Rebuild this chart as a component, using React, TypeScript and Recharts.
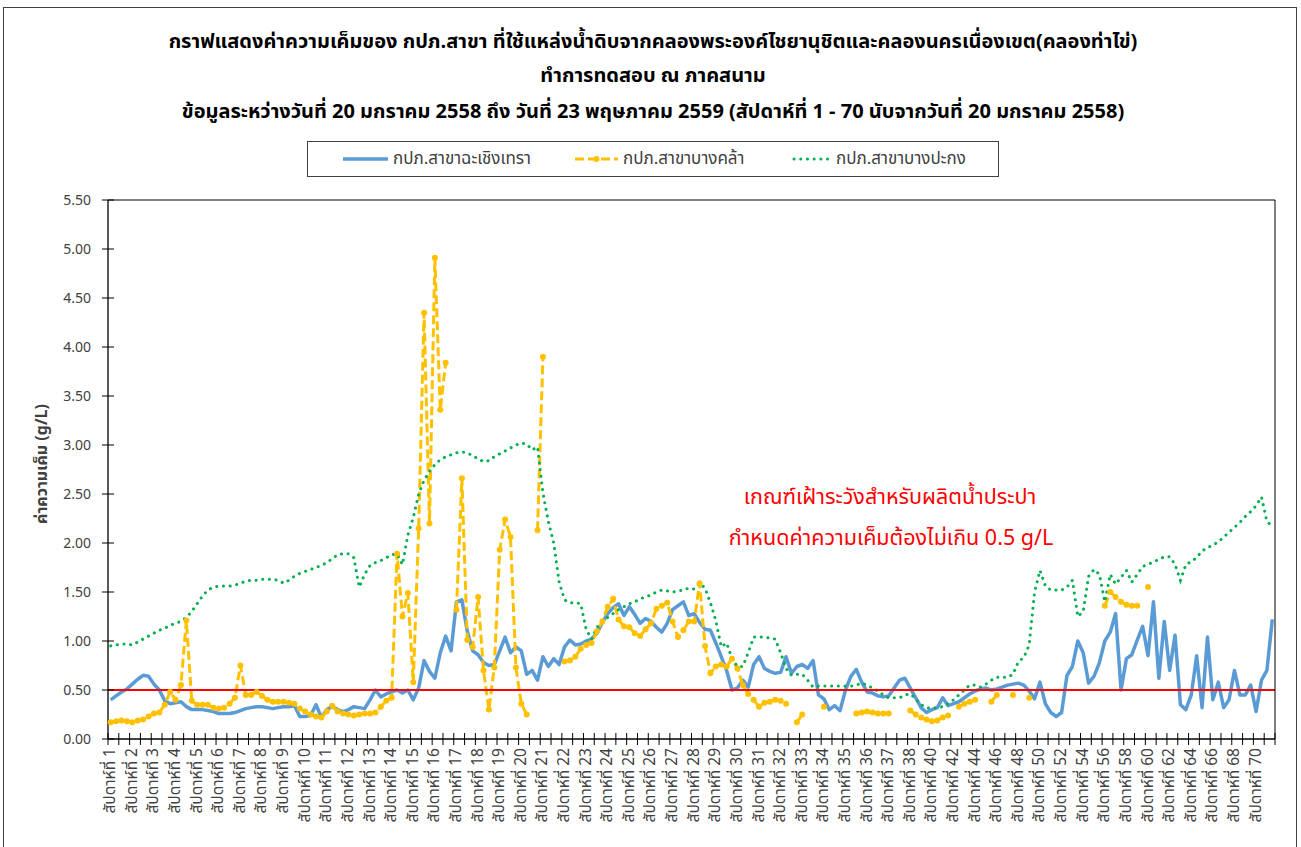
import React from "react";
import { LineChart, Line, XAxis, YAxis, ReferenceLine } from "recharts";

// week numbers shown on the category axis (one label every 4 points)
const weeks = [
  1, 2, 3, 4, 5, 6, 7, 8, 9, 10, 11, 12, 13, 14, 15, 16, 17, 18, 19, 20,
  21, 22, 23, 24, 25, 26, 27, 28, 29, 30, 31, 32, 33, 34, 35, 36, 37, 38,
  40, 42, 44, 46, 48, 50, 52, 54, 56, 58, 60, 62, 64, 66, 68, 70,
];

// กปภ.สาขาฉะเชิงเทรา (g/L)
const chachoengsao = [
  0.40, 0.44, 0.48, 0.51, 0.56, 0.61, 0.65, 0.64, 0.56, 0.50,
  0.39, 0.36, 0.37, 0.38, 0.33, 0.30, 0.30, 0.30, 0.29, 0.28,
  0.26, 0.26, 0.26, 0.27, 0.29, 0.31, 0.32, 0.33, 0.33, 0.32,
  0.31, 0.32, 0.33, 0.33, 0.34, 0.23, 0.23, 0.24, 0.35, 0.22,
  0.30, 0.33, 0.30, 0.28, 0.30, 0.33, 0.32, 0.31, 0.40, 0.50,
  0.43, 0.46, 0.48, 0.50, 0.47, 0.50, 0.40, 0.52, 0.80, 0.69,
  0.62, 0.88, 1.05, 0.90, 1.40, 1.42, 1.10, 0.90, 0.86, 0.78,
  0.75, 0.76, 0.90, 1.04, 0.88, 0.94, 0.90, 0.66, 0.70, 0.60,
  0.84, 0.74, 0.82, 0.76, 0.94, 1.01, 0.96, 0.97, 1.00, 1.02,
  1.08, 1.19, 1.28, 1.34, 1.38, 1.26, 1.35, 1.27, 1.18, 1.23,
  1.20, 1.14, 1.09, 1.18, 1.32, 1.36, 1.40, 1.26, 1.28, 1.19,
  1.12, 1.11, 0.98, 0.84, 0.70, 0.50, 0.52, 0.60, 0.53, 0.76,
  0.84, 0.72, 0.69, 0.67, 0.68, 0.84, 0.67, 0.74, 0.76, 0.72,
  0.80, 0.45, 0.41, 0.30, 0.34, 0.29, 0.50, 0.64, 0.71, 0.58,
  0.48, 0.47, 0.44, 0.43, 0.44, 0.52, 0.60, 0.62, 0.52, 0.42,
  0.32, 0.27, 0.30, 0.32, 0.42, 0.34, 0.36, 0.38, 0.42, 0.46,
  0.49, 0.51, 0.52, 0.50, 0.51, 0.53, 0.55, 0.56, 0.57, 0.55,
  0.49, 0.41, 0.58, 0.36, 0.27, 0.23, 0.27, 0.65, 0.74, 1.00,
  0.88, 0.57, 0.64, 0.78, 1.00, 1.09, 1.28, 0.50, 0.82, 0.86,
  1.01, 1.15, 0.85, 1.40, 0.62, 1.20, 0.70, 1.06, 0.35, 0.30,
  0.45, 0.85, 0.32, 1.04, 0.40, 0.58, 0.32, 0.40, 0.70, 0.45,
  0.45, 0.55, 0.28, 0.60, 0.70, 1.22,
];

// กปภ.สาขาบางคล้า (g/L), null = no sample
const bangkhla = [
  0.17, 0.18, 0.19, 0.18, 0.17, 0.19, 0.20, 0.23, 0.26, 0.27,
  0.35, 0.48, 0.40, 0.55, 1.21, 0.39, 0.35, 0.35, 0.35, 0.32,
  0.31, 0.32, 0.36, 0.42, 0.75, 0.45, 0.45, 0.48, 0.44, 0.40,
  0.38, 0.38, 0.38, 0.37, 0.36, 0.31, 0.28, 0.25, 0.23, 0.22,
  0.28, 0.34, 0.28, 0.26, 0.25, 0.24, 0.25, 0.26, 0.26, 0.27,
  0.33, 0.39, 0.42, 1.89, 1.25, 1.49, 0.58, 2.15, 4.35, 2.20,
  4.91, 3.36, 3.84, null, 1.32, 2.66, 1.01, 0.94, 1.45, 0.70,
  0.30, 0.73, 1.93, 2.24, 2.06, 0.73, 0.36, 0.25, null, 2.13,
  3.90, null, null, null, 0.79, 0.80, 0.84, 0.92, 0.96, 0.98,
  1.10, 1.20, 1.35, 1.43, 1.22, 1.15, 1.14, 1.08, 1.05, 1.12,
  1.18, 1.33, 1.36, 1.39, 1.20, 1.04, 1.11, 1.20, 1.20, 1.59,
  0.95, 0.67, 0.74, 0.76, 0.74, 0.82, 0.72, 0.55, 0.46, 0.40,
  0.33, 0.37, 0.38, 0.40, 0.39, 0.36, null, 0.17, 0.25, null,
  null, null, 0.33, null, null, null, null, null, 0.26, 0.27,
  0.28, 0.27, 0.26, 0.26, 0.26, null, null, null, 0.29, 0.25,
  0.22, 0.20, 0.18, 0.19, 0.22, 0.24, null, 0.33, 0.36, 0.38,
  0.40, null, null, 0.38, 0.45, null, null, 0.45, null, null,
  0.42, null, null, null, null, null, null, null, null, null,
  null, null, null, null, 1.36, 1.50, 1.45, 1.40, 1.37, 1.36,
  1.36, null, 1.55, null, null, null, null, null, null, null,
  null, null, null, null, null, null, null, null, null, null,
  null, null, null, null, null, null,
];

// กปภ.สาขาบางปะกง (g/L)
const bangpakong = [
  0.95, 0.96, 0.97, 0.97, 0.96, 0.99, 1.02, 1.05, 1.08, 1.11,
  1.13, 1.16, 1.18, 1.20, 1.24, 1.30, 1.38, 1.46, 1.52, 1.55,
  1.56, 1.56, 1.56, 1.57, 1.59, 1.61, 1.62, 1.62, 1.63, 1.63,
  1.63, 1.62, 1.59, 1.62, 1.66, 1.69, 1.71, 1.73, 1.75, 1.77,
  1.80, 1.84, 1.88, 1.89, 1.89, 1.85, 1.55, 1.68, 1.77, 1.80,
  1.82, 1.85, 1.88, 1.89, 1.78, 2.08, 2.26, 2.50, 2.64, 2.73,
  2.80, 2.85, 2.88, 2.90, 2.92, 2.93, 2.92, 2.89, 2.86, 2.83,
  2.84, 2.88, 2.91, 2.94, 2.97, 3.00, 3.02, 3.01, 2.95, 2.98,
  2.51, 2.22, 2.00, 1.60, 1.42, 1.39, 1.39, 1.38, 1.12, 1.02,
  1.14, 1.20, 1.24, 1.28, 1.32, 1.35, 1.38, 1.40, 1.43, 1.45,
  1.47, 1.50, 1.52, 1.51, 1.50, 1.51, 1.52, 1.54, 1.53, 1.59,
  1.54, 1.39, 1.21, 0.94, 0.98, 0.82, 0.74, 0.74, 0.88, 1.04,
  1.04, 1.04, 1.03, 1.02, 0.88, 0.72, 0.65, 0.66, 0.66, 0.60,
  0.53, 0.54, 0.54, 0.54, 0.54, 0.54, 0.54, 0.54, 0.55, 0.57,
  0.55, 0.52, 0.49, 0.45, 0.42, 0.42, 0.42, 0.45, 0.46, 0.41,
  0.35, 0.32, 0.31, 0.32, 0.33, 0.36, 0.40, 0.45, 0.50, 0.55,
  0.55, 0.53, 0.56, 0.60, 0.63, 0.63, 0.63, 0.66, 0.79, 0.83,
  0.96, 1.50, 1.72, 1.56, 1.52, 1.52, 1.52, 1.55, 1.62, 1.25,
  1.30, 1.66, 1.73, 1.68, 1.40, 1.68, 1.58, 1.65, 1.72, 1.60,
  1.68, 1.76, 1.78, 1.81, 1.83, 1.86, 1.86, 1.78, 1.62, 1.78,
  1.81, 1.85, 1.92, 1.95, 1.98, 2.01, 2.06, 2.11, 2.16, 2.21,
  2.27, 2.32, 2.38, 2.47, 2.22, 2.17,
];

const yTicks = [0, 0.5, 1, 1.5, 2, 2.5, 3, 3.5, 4, 4.5, 5, 5.5];

const FONT = "Tahoma, 'Noto Sans Thai', 'Noto Sans', 'DejaVu Sans', sans-serif";
const AXIS_TEXT = "#404040";

const PLOT_LEFT = 108;
const PLOT_RIGHT = 1275;
const PLOT_BOTTOM = 739;
const HALF = 2.7; // half a category step

const data = chachoengsao.map((v, i) => ({
  idx: i,
  a: v,
  b: bangkhla[i],
  c: bangpakong[i],
}));

const XTick = (props: any) => {
  const { x, payload } = props;
  const i = Number(payload.value);
  return (
    <g>
      {i % 2 === 0 && (
        <line x1={x - HALF} x2={x - HALF} y1={PLOT_BOTTOM - 6} y2={PLOT_BOTTOM + 6} stroke="#000" strokeWidth={1} />
      )}
      {i === data.length - 1 && (
        <line x1={PLOT_RIGHT} x2={PLOT_RIGHT} y1={PLOT_BOTTOM - 6} y2={PLOT_BOTTOM + 6} stroke="#000" strokeWidth={1} />
      )}
      {i % 4 === 0 && (
        <text
          x={x}
          y={PLOT_BOTTOM + 9}
          transform={`rotate(-90 ${x} ${PLOT_BOTTOM + 9})`}
          textAnchor="end"
          dominantBaseline="central"
          fontSize={15.5}
          fontFamily={FONT}
          fill={AXIS_TEXT}
        >
          {`สัปดาห์ที่ ${weeks[i / 4]}`}
        </text>
      )}
    </g>
  );
};

const YTick = (props: any) => {
  const { y, payload } = props;
  return (
    <g>
      <line x1={PLOT_LEFT - 6} x2={PLOT_LEFT + 6} y1={y} y2={y} stroke="#000" strokeWidth={1} />
      <text x={91} y={y} textAnchor="end" dominantBaseline="central" fontSize={14} fontFamily={FONT} fill={AXIS_TEXT}>
        {Number(payload.value).toFixed(2)}
      </text>
    </g>
  );
};

export default function App() {
  return (
    <div style={{ position: "absolute", left: 0, top: 0, width: 1301, height: 847, background: "#fff", fontFamily: FONT }}>
      <LineChart width={1301} height={847} data={data} margin={{ top: 199, right: 25, bottom: 0, left: 0 }}>
        <XAxis
          dataKey="idx"
          type="category"
          interval={0}
          height={108}
          padding={{ left: HALF, right: HALF }}
          tick={<XTick />}
          tickLine={false}
          axisLine={{ stroke: "#000", strokeWidth: 1.3 }}
        />
        <XAxis xAxisId="top" orientation="top" dataKey="idx" height={1} tick={false} tickLine={false} axisLine={{ stroke: "#000" }} />
        <YAxis
          domain={[0, 5.5]}
          ticks={yTicks}
          width={108}
          interval={0}
          tick={<YTick />}
          tickLine={false}
          axisLine={{ stroke: "#000", strokeWidth: 1.3 }}
        />
        <YAxis yAxisId="right" orientation="right" width={1} tick={false} tickLine={false} axisLine={{ stroke: "#000" }} />
        <Line
          dataKey="a"
          name="กปภ.สาขาฉะเชิงเทรา"
          stroke="#5B9BD5"
          strokeWidth={3.5}
          strokeLinejoin="round"
          dot={false}
          isAnimationActive={false}
        />
        <Line
          dataKey="b"
          name="กปภ.สาขาบางคล้า"
          stroke="#FFC000"
          strokeWidth={3}
          strokeDasharray="9 4"
          dot={{ r: 3, fill: "#FFC000", stroke: "none" }}
          connectNulls={false}
          isAnimationActive={false}
        />
        <Line
          dataKey="c"
          name="กปภ.สาขาบางปะกง"
          stroke="#00B050"
          strokeWidth={3}
          strokeDasharray="0.1 6.6"
          strokeLinecap="round"
          dot={false}
          isAnimationActive={false}
        />
        <ReferenceLine y={0.5} stroke="#FF0000" strokeWidth={2} />
      </LineChart>

      <svg width={1301} height={847} style={{ position: "absolute", left: 0, top: 0, pointerEvents: "none" }}>
        <rect x={3.5} y={7.5} width={1293} height={845} fill="none" stroke="#404040" strokeWidth={1} />

        <g fontFamily={FONT} fontWeight="bold" fontSize={20} fill="#000" textAnchor="middle">
          <text x={653} y={42} dominantBaseline="central">
            กราฟแสดงค่าความเค็มของ กปภ.สาขา ที่ใช้แหล่งน้ำดิบจากคลองพระองค์ไชยานุชิตและคลองนครเนื่องเขต(คลองท่าไข่)
          </text>
          <text x={653} y={76} dominantBaseline="central">
            ทำการทดสอบ ณ ภาคสนาม
          </text>
          <text x={653} y={112} dominantBaseline="central">
            ข้อมูลระหว่างวันที่ 20 มกราคม 2558 ถึง วันที่ 23 พฤษภาคม 2559 (สัปดาห์ที่ 1 - 70 นับจากวันที่ 20 มกราคม 2558)
          </text>
        </g>

        <rect x={307.5} y={141.5} width={691} height={35} fill="#fff" stroke="#404040" strokeWidth={1} />
        <line x1={343} x2={388} y1={159} y2={159} stroke="#5B9BD5" strokeWidth={3.5} />
        <line x1={575} x2={618} y1={159} y2={159} stroke="#FFC000" strokeWidth={3} strokeDasharray="9 4" />
        <circle cx={596.5} cy={159} r={3} fill="#FFC000" />
        <line x1={794} x2={830} y1={159} y2={159} stroke="#00B050" strokeWidth={3} strokeDasharray="0.1 6.6" strokeLinecap="round" />
        <g fontFamily={FONT} fontSize={17} fill={AXIS_TEXT} dominantBaseline="central">
          <text x={393} y={159}>กปภ.สาขาฉะเชิงเทรา</text>
          <text x={623} y={159}>กปภ.สาขาบางคล้า</text>
          <text x={836} y={159}>กปภ.สาขาบางปะกง</text>
        </g>

        <text
          x={42}
          y={464}
          transform="rotate(-90 42 464)"
          textAnchor="middle"
          dominantBaseline="central"
          fontFamily={FONT}
          fontWeight="bold"
          fontSize={16}
          fill={AXIS_TEXT}
        >
          ค่าความเค็ม (g/L)
        </text>

        <g fontFamily={FONT} fontSize={21.5} fill="#FF0000" textAnchor="middle">
          <text x={890} y={497} dominantBaseline="central">เกณฑ์เฝ้าระวังสำหรับผลิตน้ำประปา</text>
          <text x={891} y={538} dominantBaseline="central">กำหนดค่าความเค็มต้องไม่เกิน 0.5 g/L</text>
        </g>
      </svg>
    </div>
  );
}
